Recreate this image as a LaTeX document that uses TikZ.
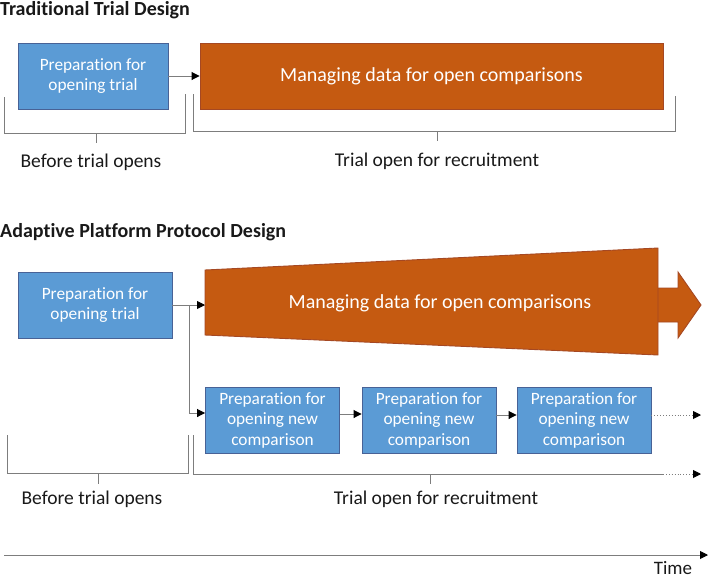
\documentclass[tikz,border=0pt]{standalone}
\usepackage{fontspec}
\setmainfont[Ligatures=NoCommon]{Carlito}
\usetikzlibrary{arrows.meta}
\definecolor{bluefill}{RGB}{91,155,213}
\definecolor{blueedge}{RGB}{72,98,150}
\definecolor{orfill}{RGB}{197,90,17}
\definecolor{oredge}{RGB}{165,72,35}
\definecolor{linegray}{RGB}{125,125,125}
\definecolor{txt}{RGB}{25,25,25}
\tikzset{
  bluebox/.style={draw=blueedge, fill=bluefill, line width=0.9pt, text=white, align=center, inner sep=0pt,
    font=\fontsize{17.3}{20.5}\selectfont},
  orbox/.style={draw=oredge, fill=orfill, line width=0.9pt, text=white, align=center, inner sep=0pt,
    font=\fontsize{20}{24}\selectfont},
  tip/.tip={Triangle[length=8pt,width=8pt,color=black]},
  conn/.style={draw=linegray, line width=0.9pt, -tip},
  dotconn/.style={draw=linegray, line width=0.9pt, dotted, -tip},
  brack/.style={draw=linegray, line width=0.9pt},
  title/.style={anchor=base west, inner sep=0pt, text=txt, font=\fontsize{20}{24}\selectfont\bfseries},
  label/.style={anchor=base, inner sep=0pt, text=txt, font=\fontsize{19.5}{23}\selectfont},
}
\begin{document}
\begin{tikzpicture}[x=1pt,y=-1pt]
\useasboundingbox (0,0) rectangle (709,579);

% ---------- Traditional ----------
\node[title] (t1) at (0,15) {Traditional Trial Design};
\node[bluebox, minimum width=150pt, minimum height=66pt] (p1) at (93,76) {Preparation for\\opening trial};
\node[orbox, minimum width=463pt, minimum height=66pt] (m1) at (431.5,76) {Managing data for open comparisons};
\draw[conn] (p1.east) -- (m1.west);

\draw[brack] (4,97) -- (4,133) -- (185,133) -- (185,94);
\draw[brack] (96,133) -- (96,143);
\draw[brack] (193,94) -- (193,131) -- (675,131) -- (675,96);
\draw[brack] (437,131) -- (437,141);
\node[label] (b1) at (91,167) {Before trial opens};
\node[label] (r1) at (437,166) {Trial open for recruitment};

% ---------- Adaptive ----------
\node[title] (t2) at (0,237) {Adaptive Platform Protocol Design};
\node[bluebox, minimum width=154pt, minimum height=66pt] (p2) at (95,305) {Preparation for\\opening trial};

% big arrow + trapezoid
\fill[orfill, draw=oredge, line width=0.9pt] (655,288) -- (678,288) -- (678,272) -- (701,305) -- (678,338) -- (678,322) -- (655,322);
\fill[orfill, draw=oredge, line width=0.9pt] (205,270) -- (658,248) -- (658,355) -- (205,335) -- cycle;
\coordinate (m2w) at (205,305);
\node[anchor=base, inner sep=0pt, text=white, font=\fontsize{20}{24}\selectfont] (m2) at (440,308) {Managing data for open comparisons};

\coordinate (j) at (189,305);
\draw[conn] (p2.east) -- (m2w);

\node[bluebox, minimum width=134pt, minimum height=66pt] (c1) at (272.5,420) {Preparation for\\opening new\\comparison};
\node[bluebox, minimum width=134pt, minimum height=66pt] (c2) at (429,420) {Preparation for\\opening new\\comparison};
\node[bluebox, minimum width=134pt, minimum height=66pt] (c3) at (584,420) {Preparation for\\opening new\\comparison};
\coordinate (c3end) at (701,415);
\draw[conn] (j) |- ([yshift=7pt]c1.west);
\draw[conn] ([yshift=6pt]c1.east) -- ([yshift=6pt]c2.west);
\draw[conn] ([yshift=5pt]c2.east) -- ([yshift=5pt]c3.west);
\draw[dotconn] ([yshift=5pt]c3.east) -- (c3end);

\draw[brack] (7,435) -- (7,473) -- (188,473) -- (188,435);
\draw[brack] (98,473) -- (98,484);
\coordinate (rb) at (663,474);
\coordinate (rbend) at (701,474);
\draw[brack] (193,435) -- (193,474) -- (rb);
\draw[dotconn] (rb) -- (rbend);
\draw[brack] (430,474) -- (430,484);
\node[label] (b2) at (92,504) {Before trial opens};
\node[label] (r2) at (436,504) {Trial open for recruitment};

% ---------- Time axis ----------
\coordinate (ts) at (4,555);
\coordinate (te) at (708,555);
\draw[conn] (ts) -- (te);
\node[label, font=\fontsize{19}{23}\selectfont] (time) at (673,574.5) {Time};
\end{tikzpicture}
\end{document}
